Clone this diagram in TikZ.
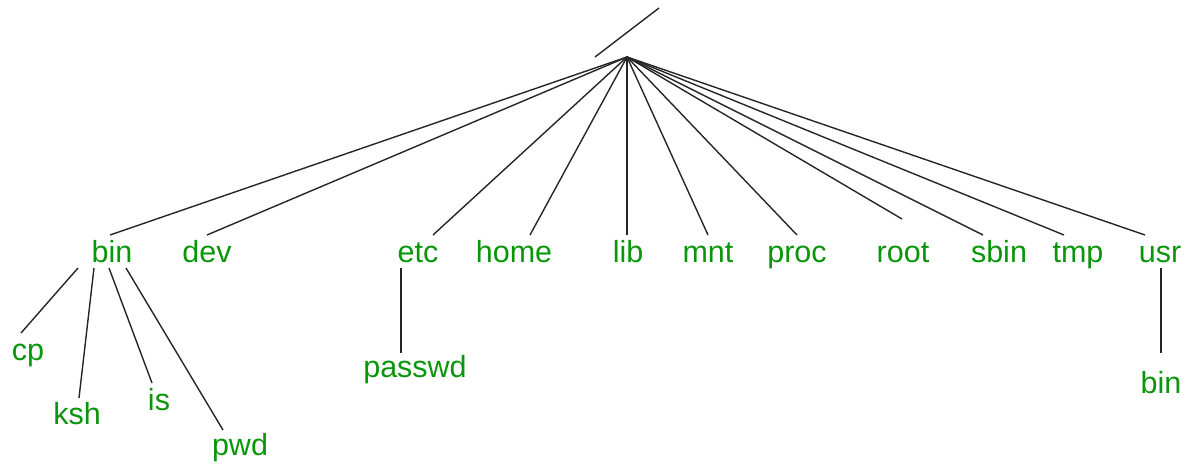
\documentclass[tikz,border=0pt]{standalone}
\usepackage{fontspec}
\setmainfont{Liberation Sans}
\usetikzlibrary{calc}
\definecolor{dirgreen}{RGB}{10,150,10}
\tikzset{
  dir/.style={text=dirgreen, inner sep=0pt, anchor=base, font=\fontsize{30.5}{36}\selectfont},
  link/.style={draw=black!85, line width=1.4pt}
}
\begin{document}
\begin{tikzpicture}[x=1pt,y=-1pt]
\useasboundingbox (0,0) rectangle (1190,463);
% root
\coordinate (root) at (627,57);
\coordinate (slashA) at (595,57);
\coordinate (slashB) at (659,8);
\draw[link] (slashA) -- (slashB);
% level 1
\node[dir] (bin)  at (112,262) {bin};
\node[dir] (dev)  at (207,262) {dev};
\node[dir] (etc)  at (418,262) {etc};
\node[dir] (home) at (514,262) {home};
\node[dir] (lib)  at (628,262) {lib};
\node[dir] (mnt)  at (708,262) {mnt};
\node[dir] (proc) at (797,262) {proc};
\node[dir] (rootd) at (903,262) {root};
\node[dir] (sbin) at (999,262) {sbin};
\node[dir] (tmp)  at (1078,262) {tmp};
\node[dir] (usr)  at (1160,262) {usr};
% level 2
\node[dir] (cp)     at (28,360)  {cp};
\node[dir] (ksh)    at (77,424)  {ksh};
\node[dir] (is)     at (159,410) {is};
\node[dir] (pwd)    at (240,455) {pwd};
\node[dir] (passwd) at (415,377) {passwd};
\node[dir] (ubin)   at (1161,393) {bin};
% connectors from root
\draw[link] (root) -- ($(bin.base)+(-2,-27)$);
\draw[link] (root) -- ($(dev.base)+(0,-27)$);
\draw[link] (root) -- ($(etc.base)+(15,-27)$);
\draw[link] (root) -- ($(home.base)+(16,-27)$);
\draw[link] (root) -- ($(lib.base)+(-1,-27)$);
\draw[link] (root) -- ($(mnt.base)+(0,-27)$);
\draw[link] (root) -- ($(proc.base)+(0,-27)$);
\draw[link] (root) -- ($(rootd.base)+(-1,-43)$);
\draw[link] (root) -- ($(sbin.base)+(-16,-27)$);
\draw[link] (root) -- ($(tmp.base)+(-14,-27)$);
\draw[link] (root) -- ($(usr.base)+(-15,-27)$);
% bin children
\draw[link] ($(bin.base)+(-34,6)$) -- ($(cp.base)+(-7,-27)$);
\draw[link] ($(bin.base)+(-18,6)$) -- ($(ksh.base)+(2,-26)$);
\draw[link] ($(bin.base)+(-3,6)$) -- ($(is.base)+(-7,-27)$);
\draw[link] ($(bin.base)+(14,6)$) -- ($(pwd.base)+(-17,-25)$);
% etc child
\draw[link] ($(etc.base)+(-17,6)$) -- ($(passwd.base)+(-14,-24)$);
% usr child
\draw[link] ($(usr.base)+(1,6)$) -- ($(ubin.base)+(0,-40)$);
\end{tikzpicture}
\end{document}
